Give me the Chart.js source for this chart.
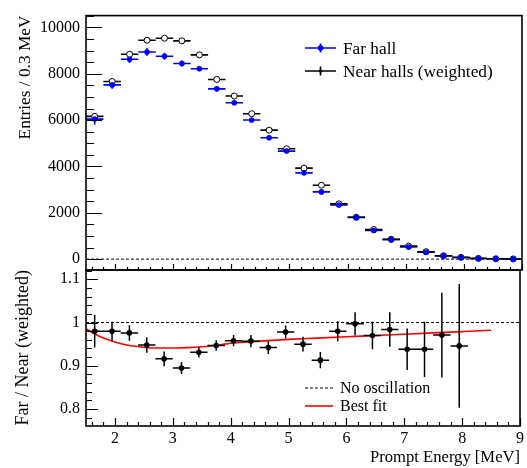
<!DOCTYPE html>
<html>
<head>
<meta charset="utf-8">
<script src="https://cdn.jsdelivr.net/npm/chart.js"></script>
<style>
  body { margin: 0; background: #fff; }
  #wrap { position: relative; width: 527px; height: 468px; }
  #wrap canvas { position: absolute; left: 0; top: 0; }
</style>
</head>
<body>
<div id="wrap">
  <canvas id="topPad" width="527" height="468"></canvas>
  <canvas id="ratioPad" width="527" height="468"></canvas>
</div>
<script>
// bin centres (0.3 MeV bins from 1.5 to 9 MeV)
const binCenters = [1.65, 1.95, 2.25, 2.55, 2.85, 3.15, 3.45, 3.75, 4.05, 4.35, 4.65, 4.95, 5.25,
                    5.55, 5.85, 6.15, 6.45, 6.75, 7.05, 7.35, 7.65, 7.95, 8.25, 8.55, 8.85];
const farHall = [6043, 7519, 8627, 8942, 8755, 8443, 8216, 7348, 6751, 6005, 5240, 4661, 3723,
                 2900, 2335, 1800, 1237, 840, 525, 299, 141, 72, 28, 14, 8];
const farHallErr = [230, 170, 160, 165, 150, 130, 105, 95, 90, 90, 85, 72, 66,
                    60, 55, 49, 41, 34, 27, 20, 14, 11, 6, 4, 3];
const nearHalls = [6160, 7665, 8840, 9445, 9535, 9420, 8815, 7755, 7040, 6275, 5565, 4765, 3925,
                   3190, 2385, 1805, 1275, 855, 560, 320, 145, 76, 30, 15, 8];

// ratio panel (first 22 bins)
const ratio = [0.980, 0.980, 0.976, 0.948, 0.916, 0.895, 0.931, 0.947, 0.958, 0.957, 0.942,
               0.978, 0.950, 0.913, 0.980, 0.997, 0.970, 0.984, 0.938, 0.938, 0.971, 0.946];
const ratioErr = [0.038, 0.022, 0.018, 0.018, 0.017, 0.014, 0.012, 0.012, 0.013, 0.014, 0.015,
                  0.015, 0.017, 0.019, 0.023, 0.027, 0.032, 0.040, 0.048, 0.064, 0.098, 0.143];

// best fit curve
const fitX = [1.5, 1.75, 2.0, 2.25, 2.5, 2.75, 3.0, 3.25, 3.5, 3.75, 4.0, 4.5, 5.0, 5.5,
              6.0, 6.5, 7.0, 7.5, 8.0, 8.5];
const fitY = [0.985, 0.967, 0.955, 0.947, 0.943, 0.941, 0.941, 0.942, 0.944, 0.947, 0.952,
              0.957, 0.961, 0.964, 0.967, 0.970, 0.973, 0.976, 0.979, 0.982];

const xTicks = [2, 3, 4, 5, 6, 7, 8, 9];
const topYTicks = [0, 2000, 4000, 6000, 8000, 10000];
const ratioYTicks = [0.8, 0.9, 1, 1.1];

const HALF_BIN = 0.15;
const X_MIN = 1.5, X_MAX = 9;
const SERIF = "'Liberation Serif', 'Times New Roman', serif";

Chart.defaults.font.family = SERIF;
Chart.defaults.font.size = 16;
Chart.defaults.color = '#000';

// horizontal error bars: one segment per bin, broken by null points
function hBars(xs, ys) {
  const out = [];
  xs.forEach((x, i) => {
    if (i >= ys.length) return;
    out.push({x: x - HALF_BIN, y: ys[i]}, {x: x + HALF_BIN, y: ys[i]}, {x: x + HALF_BIN, y: null});
  });
  return out;
}
function vBars(xs, ys, es) {
  const out = [];
  xs.forEach((x, i) => {
    if (i >= ys.length) return;
    out.push({x: x, y: ys[i] - es[i]}, {x: x, y: ys[i] + es[i]}, {x: x, y: null});
  });
  return out;
}
function pts(xs, ys) {
  return ys.map((y, i) => ({x: xs[i], y: y}));
}

function range(from, to, step) {
  const r = [];
  for (let v = from; v <= to + 1e-9; v += step) r.push(Math.round(v * 1000) / 1000);
  return r;
}

// ROOT-like frame with inward ticks
const rootFrame = {
  id: 'rootFrame',
  afterDatasetsDraw(chart, args, o) {
    const {ctx, chartArea: a} = chart;
    const sx = chart.scales.x, sy = chart.scales.y;
    ctx.save();
    ctx.strokeStyle = '#000';
    ctx.lineWidth = 1.2;
    ctx.beginPath();
    const tick = (vals, len) => {
      vals.forEach(v => {
        const px = Math.round(sx.getPixelForValue(v)) + 0.5;
        ctx.moveTo(px, a.bottom);
        ctx.lineTo(px, a.bottom - len);
      });
    };
    const ytick = (vals, len) => {
      vals.forEach(v => {
        const py = Math.round(sy.getPixelForValue(v)) + 0.5;
        if (py < a.top || py > a.bottom) return;
        ctx.moveTo(a.left, py);
        ctx.lineTo(a.left + len, py);
      });
    };
    tick(o.xMajor, o.xMajorLen);
    tick(o.xMinor, o.xMinorLen);
    ytick(o.yMajor, o.yMajorLen);
    ytick(o.yMinor, o.yMinorLen);
    ctx.stroke();
    ctx.lineWidth = 1.6;
    ctx.strokeRect(a.left, a.top, a.right - a.left, a.bottom - a.top);
    ctx.restore();
  }
};

const rootLegend = {
  id: 'rootLegend',
  afterDraw(chart, args, o) {
    const ctx = chart.ctx;
    ctx.save();
    ctx.font = o.fontSize + 'px ' + SERIF;
    ctx.textBaseline = 'middle';
    ctx.textAlign = 'left';
    o.items.forEach(it => {
      const c = (o.x0 + o.x1) / 2;
      ctx.strokeStyle = it.color;
      ctx.lineWidth = it.width;
      ctx.setLineDash(it.dash || []);
      ctx.beginPath();
      ctx.moveTo(o.x0, it.y);
      ctx.lineTo(o.x1, it.y);
      if (it.errY) {
        ctx.moveTo(c, it.y - it.errY);
        ctx.lineTo(c, it.y + it.errY);
      }
      ctx.stroke();
      ctx.setLineDash([]);
      if (it.dot) {
        ctx.fillStyle = it.color;
        ctx.beginPath();
        ctx.arc(c, it.y, it.dot, 0, Math.PI * 2);
        ctx.fill();
      }
      ctx.fillStyle = '#000';
      ctx.fillText(it.text, o.textX, it.y + 1);
    });
    ctx.restore();
  }
};

const xMinor = range(1.6, 8.8, 0.2).filter(v => Math.abs(v - Math.round(v)) > 0.01);

function yScale(min, max, ticks, title, titlePad, titleSize) {
  return {
    min: min, max: max,
    grid: {display: false, drawTicks: false},
    border: {display: false},
    afterBuildTicks: s => { s.ticks = ticks.map(v => ({value: v})); },
    afterFit: s => { s.width = 86; },
    ticks: {padding: 6, callback: v => String(v)},
    title: {display: true, text: title, align: 'end', padding: {top: titlePad, bottom: 0},
            font: {size: titleSize}}
  };
}

// ---- upper pad: spectra ----
new Chart(document.getElementById('topPad'), {
  type: 'scatter',
  data: {
    datasets: [
      { label: 'Far hall', data: pts(binCenters, farHall), pointRadius: 2.8,
        pointBackgroundColor: '#0000ff', pointBorderColor: '#0000ff', pointBorderWidth: 0 },
      { label: 'Near halls (weighted)', data: pts(binCenters, nearHalls), pointRadius: 3,
        pointBackgroundColor: '#fff', pointBorderColor: '#000', pointBorderWidth: 1 },
      { type: 'line', data: hBars(binCenters, nearHalls), borderColor: '#000', borderWidth: 1.6,
        pointRadius: 0, spanGaps: false },
      { type: 'line', data: vBars(binCenters, farHall, farHallErr), borderColor: '#0000ff', borderWidth: 1.6,
        pointRadius: 0, spanGaps: false },
      { type: 'line', data: hBars(binCenters, farHall), borderColor: '#0000ff', borderWidth: 1.6,
        pointRadius: 0, spanGaps: false },
      { type: 'line', data: [{x: X_MIN, y: 0}, {x: X_MAX, y: 0}], borderColor: '#000', borderWidth: 1,
        borderDash: [3, 2], pointRadius: 0 }
    ]
  },
  options: {
    responsive: false,
    animation: false,
    layout: {padding: {left: 0, right: 5, top: 12, bottom: 198}},
    plugins: {
      legend: {display: false},
      tooltip: {enabled: false},
      rootFrame: {
        xMajor: xTicks, xMinor: xMinor, xMajorLen: 6, xMinorLen: 3,
        yMajor: topYTicks, yMinor: range(500, 10500, 500).filter(v => v % 2000 !== 0),
        yMajorLen: 16, yMinorLen: 8
      },
      rootLegend: {
        x0: 305, x1: 336, textX: 343, fontSize: 17.3,
        items: [
          {text: 'Far hall', y: 48, color: '#0000ff', width: 1.6, dot: 2.8, errY: 4.5},
          {text: 'Near halls (weighted)', y: 71, color: '#000', width: 1.6, dot: 1.8, errY: 4.5}
        ]
      }
    },
    scales: {
      x: {type: 'linear', min: X_MIN, max: X_MAX, display: false},
      y: yScale(-470, 10510, topYTicks, 'Entries / 0.3 MeV', 15, 17.3)
    }
  },
  plugins: [rootFrame, rootLegend]
});

// ---- lower pad: ratio ----
new Chart(document.getElementById('ratioPad'), {
  type: 'scatter',
  data: {
    datasets: [
      { data: pts(binCenters, ratio), pointRadius: 2.8, pointBackgroundColor: '#000',
        pointBorderColor: '#000', pointBorderWidth: 0 },
      { type: 'line', data: hBars(binCenters, ratio), borderColor: '#000', borderWidth: 1.5,
        pointRadius: 0, spanGaps: false },
      { type: 'line', data: vBars(binCenters, ratio, ratioErr), borderColor: '#000', borderWidth: 1.5,
        pointRadius: 0, spanGaps: false },
      { type: 'line', data: pts(fitX, fitY), borderColor: '#ff0000', borderWidth: 1.6,
        pointRadius: 0, cubicInterpolationMode: 'monotone' },
      { type: 'line', data: [{x: X_MIN, y: 1}, {x: X_MAX, y: 1}], borderColor: '#000', borderWidth: 1,
        borderDash: [3, 2], pointRadius: 0 }
    ]
  },
  options: {
    responsive: false,
    animation: false,
    layout: {padding: {left: 0, right: 5, top: 270, bottom: 0}},
    plugins: {
      legend: {display: false},
      tooltip: {enabled: false},
      rootFrame: {
        xMajor: xTicks, xMinor: xMinor, xMajorLen: 8, xMinorLen: 4,
        yMajor: ratioYTicks, yMinor: range(0.76, 1.12, 0.02).filter(v => Math.abs(v * 10 - Math.round(v * 10)) > 0.01),
        yMajorLen: 12, yMinorLen: 6
      },
      rootLegend: {
        x0: 305, x1: 333, textX: 340, fontSize: 16,
        items: [
          {text: 'No oscillation', y: 388, color: '#000', width: 1, dash: [3, 2]},
          {text: 'Best fit', y: 406, color: '#ff0000', width: 1.6}
        ]
      }
    },
    scales: {
      x: {
        type: 'linear', min: X_MIN, max: X_MAX,
        grid: {display: false, drawTicks: false},
        border: {display: false},
        afterBuildTicks: s => { s.ticks = xTicks.map(v => ({value: v})); },
        afterFit: s => { s.height = 42; },
        ticks: {padding: 3, maxRotation: 0, autoSkip: false, callback: v => String(v)},
        title: {display: true, text: 'Prompt Energy [MeV]', align: 'end', padding: {top: 0, bottom: 0},
                font: {size: 16.6}}
      },
      y: yScale(0.7607, 1.1215, ratioYTicks, 'Far / Near (weighted)', 12.5, 18)
    }
  },
  plugins: [rootFrame, rootLegend]
});
</script>
</body>
</html>
